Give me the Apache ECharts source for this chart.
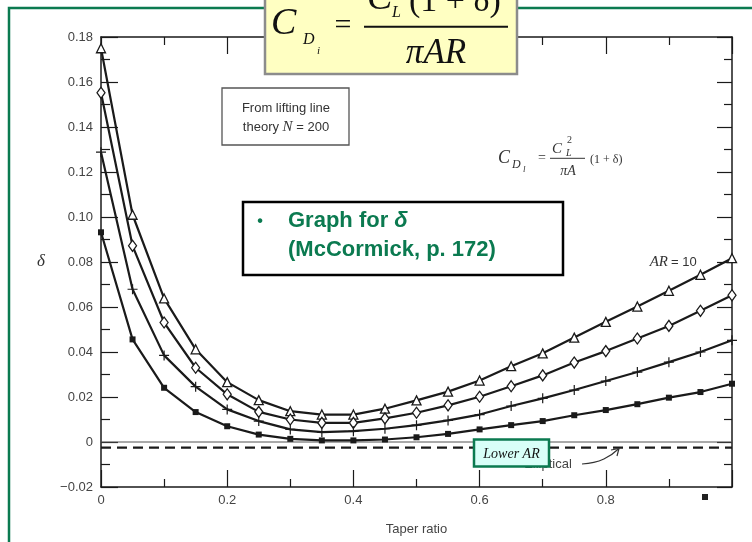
<!DOCTYPE html>
<html>
<head>
<meta charset="utf-8">
<script src="https://cdn.jsdelivr.net/npm/echarts@6/dist/echarts.min.js"></script>
<style>
  html, body { margin: 0; padding: 0; background: #fff; }
  #main { width: 752px; height: 542px; }
</style>
</head>
<body>
<div id="main"></div>
<script>
// taper ratio, one marker every 0.05
var taper = [0, 0.05, 0.1, 0.15, 0.2, 0.25, 0.3, 0.35, 0.4, 0.45, 0.5,
             0.55, 0.6, 0.65, 0.7, 0.75, 0.8, 0.85, 0.9, 0.95, 1.0];

// delta (AR = 10 on top, lower AR below)
var deltaAR10 = [0.175, 0.101, 0.0638, 0.0412, 0.0266, 0.0186, 0.0137, 0.0122, 0.0122, 0.0148, 0.0185,
                 0.0224, 0.0273, 0.0337, 0.0394, 0.0464, 0.0534, 0.0602, 0.0672, 0.0743, 0.0817];
var deltaDiamond = [0.1552, 0.0872, 0.0531, 0.0330, 0.0212, 0.0134, 0.0100, 0.0085, 0.0085, 0.0105, 0.0130,
                    0.0163, 0.0201, 0.0248, 0.0296, 0.0353, 0.0404, 0.0460, 0.0516, 0.0583, 0.0652];
var deltaPlus = [0.1288, 0.0679, 0.0385, 0.0246, 0.0145, 0.0093, 0.0056, 0.0044, 0.0048, 0.0059, 0.0075,
                 0.0096, 0.0122, 0.0160, 0.0194, 0.0231, 0.0271, 0.0311, 0.0355, 0.0400, 0.0452];
var deltaSquare = [0.0932, 0.0456, 0.0241, 0.0133, 0.0070, 0.0033, 0.0014, 0.0007, 0.0007, 0.0011, 0.0021,
                   0.0036, 0.0056, 0.0075, 0.0093, 0.0119, 0.0142, 0.0168, 0.0197, 0.0222, 0.0259];

// reference lines
var zeroLine = [0, 0];
var ellipticalLine = [-0.0025, -0.0025];
var lineEnds = [0, 1];

var ink = '#1a1a1a';
var green = '#0b7a50';

function pairs(xs, ys) {
  return xs.map(function (x, i) { return [x, ys[i]]; });
}

var plusPath = 'path://M4.4,0h1.2v4.4h4.4v1.2h-4.4v4.4h-1.2v-4.4h-4.4v-1.2h4.4z';

function curve(name, values, symbol, size, hollow) {
  return {
    name: name,
    type: 'line',
    data: pairs(taper, values),
    symbol: symbol,
    symbolSize: size,
    showAllSymbol: true,
    lineStyle: { color: ink, width: 2.2 },
    itemStyle: hollow
      ? { color: '#fff', borderColor: ink, borderWidth: 1.3 }
      : { color: ink, borderWidth: 0 },
    z: 5
  };
}

var tickStyle = { color: ink, width: 1.2 };

function xAxis(pos, showLabel) {
  return {
    type: 'value',
    position: pos,
    min: 0,
    max: 1,
    interval: 0.2,
    axisLine: { show: true, onZero: false, lineStyle: { color: ink, width: 1.5 } },
    axisTick: { show: true, inside: true, length: 17, lineStyle: tickStyle },
    minorTick: { show: true, splitNumber: 2, length: 8, lineStyle: tickStyle },
    splitLine: { show: false },
    axisLabel: {
      show: showLabel,
      margin: 7,
      color: '#444',
      fontSize: 13,
      fontFamily: 'Liberation Sans, Arial, sans-serif',
      formatter: function (v) {
        if (v > 0.99) return '';
        return String(Math.round(v * 10) / 10);
      }
    },
    name: showLabel ? 'Taper ratio' : '',
    nameLocation: 'middle',
    nameGap: 36,
    nameTextStyle: { color: '#444', fontSize: 13, fontFamily: 'Liberation Sans, Arial, sans-serif' }
  };
}

function yAxis(pos, showLabel, tickLen, minorLen) {
  return {
    type: 'value',
    position: pos,
    min: -0.02,
    max: 0.18,
    interval: 0.02,
    axisLine: { show: true, onZero: false, lineStyle: { color: ink, width: 1.5 } },
    axisTick: { show: true, inside: true, length: tickLen, lineStyle: tickStyle },
    minorTick: { show: true, splitNumber: 2, length: minorLen, lineStyle: tickStyle },
    splitLine: { show: false },
    axisLabel: {
      show: showLabel,
      margin: 8,
      color: '#444',
      fontSize: 13,
      fontFamily: 'Liberation Sans, Arial, sans-serif',
      formatter: function (v) {
        if (Math.abs(v) < 1e-9) return '0';
        return (v < 0 ? '\u22120.02' : v.toFixed(2));
      }
    },
    name: showLabel ? 'δ' : '',
    nameLocation: 'middle',
    nameRotate: 0,
    nameGap: 56,
    nameTextStyle: { color: '#333', fontSize: 17, fontStyle: 'italic', fontFamily: 'Liberation Serif, serif' }
  };
}

function txt(x, y, text, font, fill, align, valign) {
  return {
    type: 'text', x: x, y: y, z: 100,
    style: {
      text: text, font: font, fill: fill || '#222',
      align: align || 'left', textAlign: align || 'left',
      verticalAlign: valign || 'middle', textVerticalAlign: valign || 'middle'
    }
  };
}

var serif = 'Liberation Serif, Times New Roman, serif';
var sans = 'Liberation Sans, Arial, sans-serif';

var graphics = [
  // green slide frame
  { type: 'rect', z: 50, shape: { x: 9, y: 8, width: 800, height: 600 },
    style: { fill: 'none', stroke: green, lineWidth: 2.5 } },

  // formula box at the top
  { type: 'rect', z: 90, shape: { x: 265, y: -6, width: 252, height: 80 },
    style: { fill: '#ffffc2', stroke: '#8c8c8c', lineWidth: 2.5 } },
  txt(271, 24, 'C', 'italic 38px ' + serif, '#111'),
  txt(303, 40, 'D', 'italic 16px ' + serif, '#111'),
  txt(317, 51, 'i', 'italic 11px ' + serif, '#111'),
  txt(343, 26, '=', '30px ' + serif, '#111', 'center'),
  { type: 'line', z: 100, shape: { x1: 364, y1: 26.7, x2: 508, y2: 26.7 },
    style: { stroke: '#111', lineWidth: 2 } },
  txt(367, 18, 'C', 'italic 38px ' + serif, '#111', 'left', 'bottom'),
  txt(392, 21, 'L', 'italic 16px ' + serif, '#111', 'left', 'bottom'),
  txt(409, 19, '(1 + δ)', '34px ' + serif, '#111', 'left', 'bottom'),
  txt(436, 54, 'πAR', 'italic 35px ' + serif, '#111', 'center'),

  // lifting line box
  { type: 'rect', z: 90, shape: { x: 222, y: 88, width: 127, height: 57 },
    style: { fill: '#fff', stroke: '#555', lineWidth: 1.3 } },
  txt(286, 108, 'From lifting line', '13px ' + sans, '#333', 'center'),
  {
    type: 'text', x: 286, y: 127, z: 100,
    style: {
      text: '{a|theory }{b|N}{a| = 200}',
      align: 'center', textAlign: 'center', verticalAlign: 'middle', textVerticalAlign: 'middle',
      rich: {
        a: { font: '13px ' + sans, fill: '#333', color: '#333' },
        b: { font: 'italic 15px ' + serif, fill: '#333', color: '#333' }
      }
    }
  },

  // small formula on the right
  txt(498, 158, 'C', 'italic 18px ' + serif, '#333'),
  txt(512, 165, 'D', 'italic 12px ' + serif, '#333'),
  txt(523, 170, 'l', 'italic 9px ' + serif, '#333'),
  txt(542, 158, '=', '14px ' + serif, '#333', 'center'),
  txt(557, 149, 'C', 'italic 15px ' + serif, '#333', 'center'),
  txt(566, 153, 'L', 'italic 10px ' + serif, '#333'),
  txt(567, 140, '2', '10px ' + serif, '#333'),
  { type: 'line', z: 100, shape: { x1: 550, y1: 158.3, x2: 585, y2: 158.3 },
    style: { stroke: '#333', lineWidth: 1 } },
  txt(568, 171, 'πA', 'italic 14px ' + serif, '#333', 'center'),
  txt(590, 160, '(1 + δ)', '12px ' + serif, '#333'),

  // McCormick box
  { type: 'rect', z: 90, shape: { x: 243, y: 202, width: 320, height: 73 },
    style: { fill: '#fff', stroke: '#000', lineWidth: 2.5 } },
  txt(260, 222, '•', 'bold 16px ' + sans, green, 'center'),
  {
    type: 'text', x: 288, y: 221, z: 100,
    style: {
      text: '{a|Graph for }{b|δ}',
      align: 'left', textAlign: 'left', verticalAlign: 'middle', textVerticalAlign: 'middle',
      rich: {
        a: { font: 'bold 22px ' + sans, fill: green, color: green },
        b: { font: 'bold italic 22px ' + sans, fill: green, color: green }
      }
    }
  },
  txt(288, 250, '(McCormick, p. 172)', 'bold 22px ' + sans, green),

  // AR = 10 label
  txt(668, 262, 'AR', 'italic 15px ' + serif, '#333', 'right'),
  txt(671, 262, '= 10', '13px ' + sans, '#333'),

  // elliptical label and arrow
  txt(548, 464, 'Elliptical', '13px ' + sans, '#444', 'center'),
  { type: 'bezierCurve', z: 95,
    shape: { x1: 582, y1: 464, cpx1: 600, cpy1: 463, cpx2: 610, cpy2: 457, x2: 619, y2: 448.5 },
    style: { stroke: '#333', lineWidth: 1.2, fill: 'none' } },
  { type: 'polyline', z: 95, shape: { points: [[611, 450], [619, 448.5], [617, 456]] },
    style: { stroke: '#333', lineWidth: 1.2, fill: 'none' } },

  // Lower AR box
  { type: 'rect', z: 110, shape: { x: 474, y: 439.5, width: 75, height: 27 },
    style: { fill: '#d8fff8', stroke: green, lineWidth: 2.5 } },
  {
    type: 'text', x: 511.5, y: 454, z: 120,
    style: { text: 'Lower AR', font: 'italic 14px ' + serif, fill: '#111',
             align: 'center', textAlign: 'center', verticalAlign: 'middle', textVerticalAlign: 'middle' }
  },

  // stray mark on the tick row
  { type: 'rect', z: 100, shape: { x: 702, y: 494, width: 6, height: 6 },
    style: { fill: '#222' } }
];

var chart = echarts.init(document.getElementById('main'), null, { renderer: 'canvas' });

var option = {
  backgroundColor: '#ffffff',
  animation: false,
  grid: { left: 101, right: 20, top: 37, bottom: 55 },
  xAxis: [xAxis('bottom', true), xAxis('top', false)],
  yAxis: [yAxis('left', true, 17, 9), yAxis('right', false, 15, 8)],
  series: [
    {
      name: 'zero',
      type: 'line',
      data: pairs(lineEnds, zeroLine),
      symbol: 'none',
      lineStyle: { color: '#555', width: 1 },
      z: 2
    },
    {
      name: 'Elliptical',
      type: 'line',
      data: pairs(lineEnds, ellipticalLine),
      symbol: 'none',
      lineStyle: { color: ink, width: 2.2, type: [10, 6] },
      z: 3
    },
    curve('AR = 10', deltaAR10, 'triangle', 9, true),
    curve('diamond', deltaDiamond, 'diamond', [8, 11], true),
    curve('plus', deltaPlus, plusPath, 10, false),
    curve('square', deltaSquare, 'rect', 6, false)
  ],
  graphic: graphics
};

chart.setOption(option);
</script>
</body>
</html>
